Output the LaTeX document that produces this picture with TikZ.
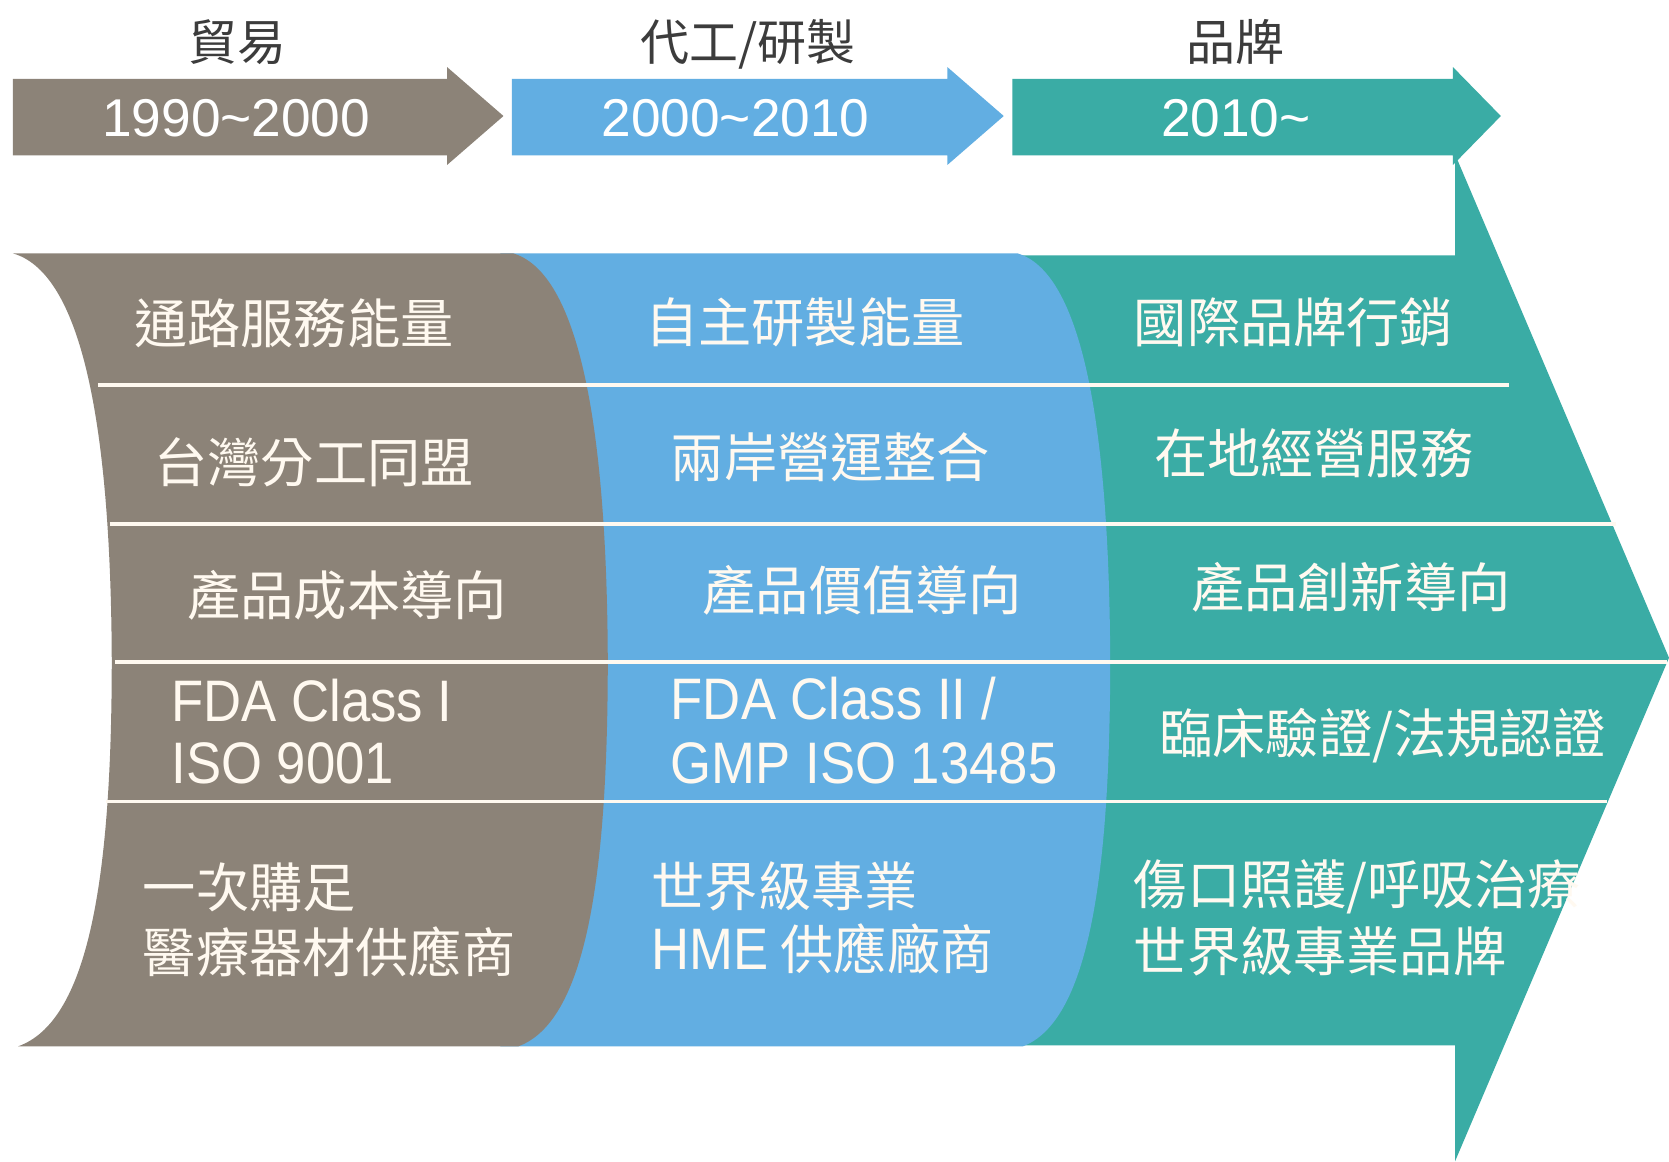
\documentclass[tikz,border=0pt]{standalone}
\usepackage{fontspec}
\setmainfont{Noto Sans CJK TC}
\newfontfamily\lat[FakeStretch=0.9]{Liberation Sans}
\newfontfamily\datef{Liberation Sans}
\definecolor{cbrown}{HTML}{8C8378}
\definecolor{cblue}{HTML}{62AEE2}
\definecolor{cteal}{HTML}{3AACA5}
\definecolor{ctxt}{HTML}{FFF9F0}
\definecolor{clabel}{HTML}{3C3C3C}
\begin{document}
\begin{tikzpicture}[x=1pt,y=-1pt,
  cell/.style={anchor=base west,inner sep=0pt,text=ctxt,font=\fontsize{50pt}{60pt}\selectfont},
  latcell/.style={anchor=base west,inner sep=0pt,text=ctxt,font=\lat\fontsize{55pt}{60pt}\selectfont},
  datelbl/.style={anchor=base,inner sep=0pt,text=white,font=\datef\fontsize{50pt}{60pt}\selectfont},
  eralbl/.style={anchor=base,inner sep=0pt,text=clabel,font=\fontsize{46pt}{50pt}\selectfont},
  sepline/.style={draw=ctxt,line width=3.5pt}
]
\fill[white] (0,0) rectangle (1568,1091);
\useasboundingbox (0,0) rectangle (1568,1091);

% top era arrows
\fill[cbrown] (12,74) -- (420,74) -- (420,63) -- (473,109) -- (420,155) -- (420,146) -- (12,146) -- cycle;
\fill[cblue] (481,74) -- (890,74) -- (890,63) -- (943,109) -- (890,155) -- (890,146) -- (481,146) -- cycle;
\fill[cteal] (951,74) -- (1365,74) -- (1365,63) -- (1410,109) -- (1365,155) -- (1365,146) -- (951,146) -- cycle;

% big arrow
\fill[cteal] (900,240) -- (1367,240) -- (1367,145) -- (1568,618) -- (1367,1091) -- (1367,982) -- (900,982) -- cycle;

% blue band
\fill[cblue] (470,238) -- (956,238) .. controls (1012,255) and (1042,380) .. (1043,620)
  .. controls (1043,830) and (1021,960) .. (961,983) -- (470,983) -- cycle;

% brown band
\fill[cbrown] (12,238) -- (482,238) .. controls (539,255) and (570,380) .. (571,620)
  .. controls (571,830) and (549,960) .. (487,983) -- (17,983)
  .. controls (82,960) and (105,830) .. (105,620)
  .. controls (104,380) and (72,255) .. (12,238) -- cycle;

% separators
\draw[sepline] (92,362) -- (1418,362);
\draw[sepline] (103,492) -- (1518,492);
\draw[sepline] (108,622) -- (1566,622);
\draw[sepline] (100,753) -- (1510,753);

% era labels
\node[eralbl] (e1) at (223,57) {貿易};
\node[eralbl] (e2) at (703,57) {代工/研製};
\node[eralbl] (e3) at (1161,57) {品牌};

% dates
\node[datelbl] (d1) at (222,128) {1990\string~2000};
\node[datelbl] (d2) at (691,128) {2000\string~2010};
\node[datelbl] (d3) at (1161,128) {2010\string~};

% brown column
\node[cell] (b1) at (126,323) {通路服務能量};
\node[cell] (b2) at (145,453) {台灣分工同盟};
\node[cell] (b3) at (176,578) {產品成本導向};
\node[latcell] (b4a) at (161,678) {FDA Class I};
\node[latcell] (b4b) at (161,736) {ISO 9001};
\node[cell] (b5a) at (134,853) {一次購足};
\node[cell] (b5b) at (134,914) {醫療器材供應商};

% blue column
\node[cell] (m1) at (606,322) {自主研製能量};
\node[cell] (m2) at (630,449) {兩岸營運整合};
\node[cell] (m3) at (660,574) {產品價值導向};
\node[latcell] (m4a) at (630,676) {FDA Class II /};
\node[latcell] (m4b) at (630,736) {GMP ISO 13485};
\node[cell] (m5a) at (612,852) {世界級專業};
\node[cell] (m5b) at (612,911) {{\lat\fontsize{55pt}{60pt}\selectfont HME} 供應廠商};

% teal column
\node[cell] (t1) at (1065,322) {國際品牌行銷};
\node[cell] (t2) at (1084,445) {在地經營服務};
\node[cell] (t3) at (1119,571) {產品創新導向};
\node[cell] (t4) at (1089,708) {臨床驗證/法規認證};
\node[cell] (t5a) at (1065,850) {傷口照護/呼吸治療};
\node[cell] (t5b) at (1065,913) {世界級專業品牌};
\end{tikzpicture}
\end{document}
